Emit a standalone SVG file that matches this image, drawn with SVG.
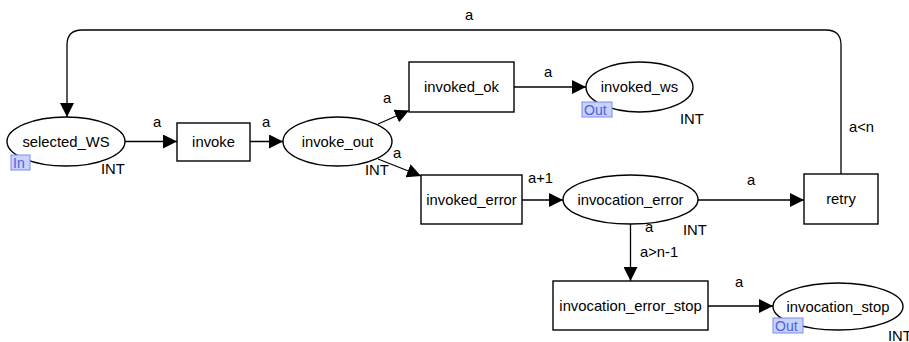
<svg xmlns="http://www.w3.org/2000/svg" width="909" height="342" viewBox="0 0 909 342">
<style>
text{font-family:"Liberation Sans",Arial,sans-serif;font-size:14.8px;fill:#000}
.n{text-anchor:middle}
.shape{fill:#fff;stroke:#000;stroke-width:1.4}
.c{fill:none;stroke:#000;stroke-width:1.3}
.badge{fill:#c8d2fb;stroke:#7b8cf0;stroke-width:1}
.bt{fill:#4a62e0;font-size:14px}
</style>
<defs>
<marker id="ah" markerUnits="userSpaceOnUse" markerWidth="14" markerHeight="14" refX="14" refY="7" orient="auto">
<path d="M0,0 L14,7 L0,14 z" fill="#000"/>
</marker>
</defs>
<g id="connectors">
<path class="c" d="M125,141.5 H177" marker-end="url(#ah)"/>
<path class="c" d="M250,141.5 H283" marker-end="url(#ah)"/>
<path class="c" d="M378,124 L409,110.5" marker-end="url(#ah)"/>
<path class="c" d="M378,159 L421,176" marker-end="url(#ah)"/>
<path class="c" d="M514,87 H586" marker-end="url(#ah)"/>
<path class="c" d="M522,200 H563" marker-end="url(#ah)"/>
<path class="c" d="M698,200 H804" marker-end="url(#ah)"/>
<path class="c" d="M630.5,224 V281" marker-end="url(#ah)"/>
<path class="c" d="M708,306 H773" marker-end="url(#ah)"/>
<path class="c" d="M841,174 V45 Q841,30 826,30 H82 Q67,30 67,45 V117" marker-end="url(#ah)"/>
<text x="153" y="127">a</text>
<text x="262" y="127">a</text>
<text x="383" y="103">a</text>
<text x="393" y="158">a</text>
<text x="465" y="20">a</text>
<text x="544" y="77">a</text>
<text x="849" y="132">a&lt;n</text>
<text x="528" y="183">a+1</text>
<text x="747" y="185">a</text>
<text x="645" y="232">a</text>
<text x="640" y="257">a&gt;n-1</text>
<text x="735" y="287">a</text>
</g>
<g id="selected_WS">
<ellipse class="shape" cx="66" cy="141.5" rx="59" ry="24.5"/>
<text class="n" x="66" y="146.5">selected_WS</text>
<rect class="badge" x="11" y="155" width="19" height="15"/>
<text class="bt" x="13" y="168">In</text>
<text x="101" y="174">INT</text>
</g>
<g id="invoke">
<rect class="shape" x="177" y="123" width="73" height="38"/>
<text class="n" x="213.5" y="147">invoke</text>
</g>
<g id="invoke_out">
<ellipse class="shape" cx="337.5" cy="141.5" rx="54.5" ry="24.5"/>
<text class="n" x="337.5" y="146.5">invoke_out</text>
<text x="365" y="175">INT</text>
</g>
<g id="invoked_ok">
<rect class="shape" x="409" y="62" width="105" height="50"/>
<text class="n" x="461.5" y="92">invoked_ok</text>
</g>
<g id="invoked_ws">
<ellipse class="shape" cx="639.5" cy="87" rx="53.5" ry="25"/>
<text class="n" x="639.5" y="92">invoked_ws</text>
<rect class="badge" x="582" y="102" width="30" height="15"/>
<text class="bt" x="584" y="115">Out</text>
<text x="680" y="124">INT</text>
</g>
<g id="invoked_error">
<rect class="shape" x="421" y="175" width="101" height="49"/>
<text class="n" x="471.5" y="204.5">invoked_error</text>
</g>
<g id="invocation_error">
<ellipse class="shape" cx="630.5" cy="199.5" rx="67.5" ry="24.5"/>
<text class="n" x="630.5" y="204.5">invocation_error</text>
<text x="683" y="235">INT</text>
</g>
<g id="retry">
<rect class="shape" x="804" y="174" width="74" height="50"/>
<text class="n" x="841" y="204">retry</text>
</g>
<g id="invocation_error_stop">
<rect class="shape" x="553" y="281" width="155" height="49"/>
<text class="n" x="630.5" y="310.5">invocation_error_stop</text>
</g>
<g id="invocation_stop">
<ellipse class="shape" cx="838" cy="306.5" rx="65" ry="23.5"/>
<text class="n" x="838" y="311.5">invocation_stop</text>
<rect class="badge" x="773" y="318" width="30" height="15"/>
<text class="bt" x="775" y="331">Out</text>
<text x="888" y="341">INT</text>
</g>
</svg>
